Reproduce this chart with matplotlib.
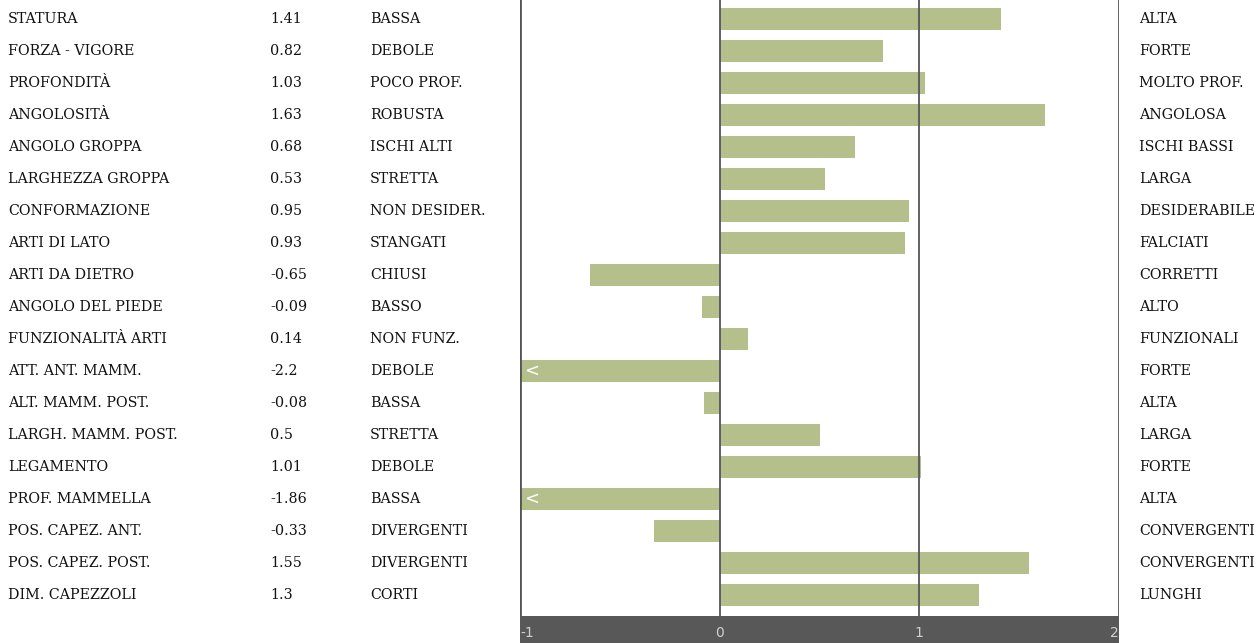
import matplotlib.pyplot as plt
from matplotlib.transforms import blended_transform_factory

# data
traits = ['STATURA', 'FORZA - VIGORE', 'PROFONDITÀ', 'ANGOLOSITÀ', 'ANGOLO GROPPA',
          'LARGHEZZA GROPPA', 'CONFORMAZIONE', 'ARTI DI LATO', 'ARTI DA DIETRO',
          'ANGOLO DEL PIEDE', 'FUNZIONALITÀ ARTI', 'ATT. ANT. MAMM.', 'ALT. MAMM. POST.',
          'LARGH. MAMM. POST.', 'LEGAMENTO', 'PROF. MAMMELLA', 'POS. CAPEZ. ANT.',
          'POS. CAPEZ. POST.', 'DIM. CAPEZZOLI']
values = [1.41, 0.82, 1.03, 1.63, 0.68, 0.53, 0.95, 0.93, -0.65, -0.09, 0.14,
          -2.2, -0.08, 0.5, 1.01, -1.86, -0.33, 1.55, 1.3]
value_labels = ['1.41', '0.82', '1.03', '1.63', '0.68', '0.53', '0.95', '0.93', '-0.65',
                '-0.09', '0.14', '-2.2', '-0.08', '0.5', '1.01', '-1.86', '-0.33', '1.55', '1.3']
low_labels = ['BASSA', 'DEBOLE', 'POCO PROF.', 'ROBUSTA', 'ISCHI ALTI', 'STRETTA',
              'NON DESIDER.', 'STANGATI', 'CHIUSI', 'BASSO', 'NON FUNZ.', 'DEBOLE',
              'BASSA', 'STRETTA', 'DEBOLE', 'BASSA', 'DIVERGENTI', 'DIVERGENTI', 'CORTI']
high_labels = ['ALTA', 'FORTE', 'MOLTO PROF.', 'ANGOLOSA', 'ISCHI BASSI', 'LARGA',
               'DESIDERABILE', 'FALCIATI', 'CORRETTI', 'ALTO', 'FUNZIONALI', 'FORTE',
               'ALTA', 'LARGA', 'FORTE', 'ALTA', 'CONVERGENTI', 'CONVERGENTI', 'LUNGHI']
x_ticks = [-1, 0, 1, 2]

W, H = 1259, 643
XMIN, XMAX = -1, 2
bar_color = '#b5bf8c'
line_color = '#555555'

fig = plt.figure(figsize=(W / 100, H / 100), dpi=100)
ax = fig.add_axes([520 / W, 27 / H, 599 / W, 616 / H])

rows = list(range(len(traits)))
clipped = [max(v, XMIN) for v in values]
ax.barh(rows, clipped, height=0.69, color=bar_color, zorder=2)

# marker for bars going past the left edge
for i, v in enumerate(values):
    if v < XMIN:
        ax.text(XMIN + 0.02, i, '<', color='white', fontsize=13, va='center',
                ha='left', family='DejaVu Sans', zorder=3)

for t in x_ticks:
    lw = 2 if t in (XMIN, XMAX) else 1.3
    ax.axvline(t, color=line_color, lw=lw, zorder=3)

ax.set_xlim(XMIN, XMAX)
ax.set_ylim(19.25 - 0.594, -0.594)
ax.axis('off')

# text columns
tr = blended_transform_factory(fig.transFigure, ax.transData)
font = dict(family='DejaVu Serif', fontsize=10.3, color='#111111', va='center')
for i in rows:
    ax.text(8 / W, i, traits[i], transform=tr, ha='left', **font)
    ax.text(270 / W, i, value_labels[i], transform=tr, ha='left', **font)
    ax.text(370 / W, i, low_labels[i], transform=tr, ha='left', **font)
    ax.text(1139 / W, i, high_labels[i], transform=tr, ha='left', **font)

# bottom scale band
bx = fig.add_axes([520 / W, 0, 599 / W, 27 / H])
bx.set_facecolor('#585858')
bx.set_xlim(XMIN, XMAX)
bx.set_ylim(0, 1)
bx.set_xticks([])
bx.set_yticks([])
for s in bx.spines.values():
    s.set_visible(False)
for t in x_ticks:
    ha = 'left' if t == XMIN else ('right' if t == XMAX else 'center')
    bx.text(t, 0.38, str(t), color='#d0d0d0', ha=ha, va='center', fontsize=10,
            family='DejaVu Sans')

fig.savefig('out.png', dpi=100)
